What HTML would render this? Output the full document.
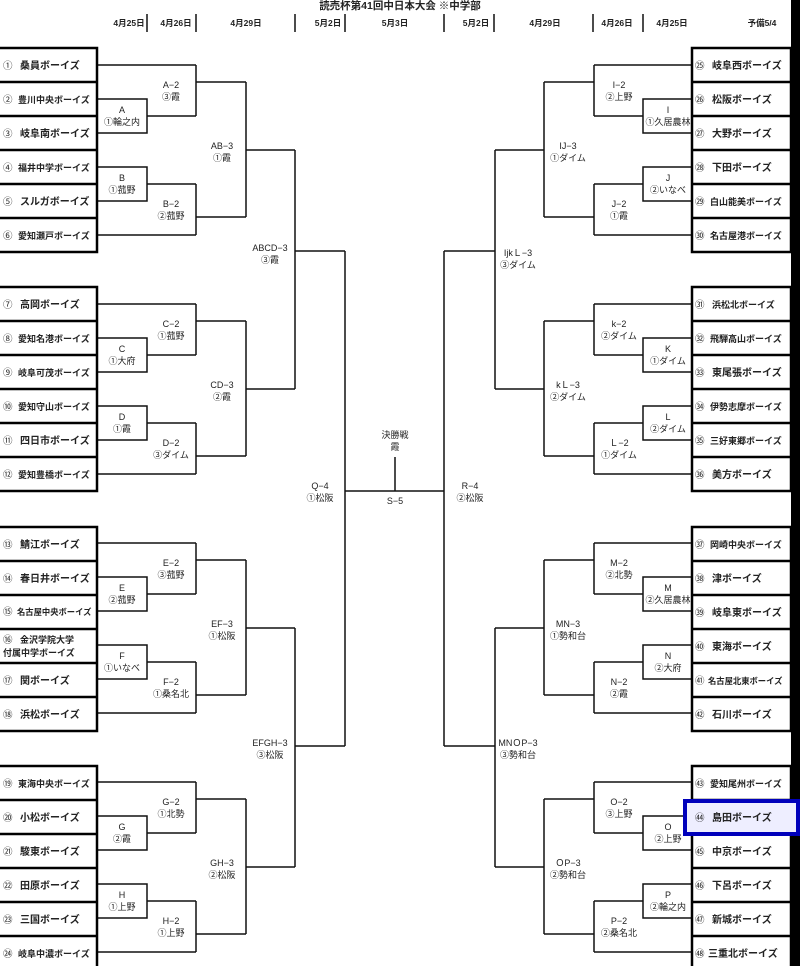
<!DOCTYPE html>
<html><head><meta charset="utf-8">
<style>
html,body{margin:0;padding:0;background:#fff;}
svg{display:block;font-family:"Liberation Sans","Noto Sans CJK JP",sans-serif;}
.t{font-size:10px;font-weight:bold;fill:#222;}
.s{font-size:9px;font-weight:bold;fill:#222;}
.u{font-size:8.3px;font-weight:bold;fill:#222;}
.n{font-size:9.5px;fill:#222;}
.l{font-size:9px;fill:#222;text-anchor:middle;}
.h{font-size:8.5px;font-weight:bold;fill:#222;text-anchor:middle;}
</style></head><body>
<svg width="800" height="966" viewBox="0 0 800 966" xmlns="http://www.w3.org/2000/svg">
<defs>
<path id="g" fill="none" stroke="#111" stroke-width="1.5" d="M97 65H196 M97 99H147V133H97 M147 116H196 M196 65V116 M196 82H246 M97 167H147V201H97 M147 184H196 M196 184V235 M97 235H196 M196 217H246 M246 82V217 M246 150H295"/>
<g id="bx" fill="none" stroke="#000" stroke-width="2.5"><rect x="-2" y="48" width="99" height="204"/><path d="M-2 82H97M-2 116H97M-2 150H97M-2 184H97M-2 218H97"/></g>
</defs>
<rect x="791" y="0" width="9" height="966" fill="#000"/>
<text x="400" y="9" class="h" style="font-size:10.5px">読売杯第41回中日本大会 ※中学部</text>
<g class="h">
<text x="129" y="26">4月25日</text><text x="176" y="26">4月26日</text><text x="246" y="26">4月29日</text><text x="328" y="26">5月2日</text><text x="395" y="26">5月3日</text><text x="476" y="26">5月2日</text><text x="545" y="26">4月29日</text><text x="617" y="26">4月26日</text><text x="672" y="26">4月25日</text><text x="762" y="26">予備5/4</text>
</g>
<path stroke="#111" stroke-width="1.5" d="M147 14V32M196 14V32M295 14V32M345 14V32M444 14V32M494 14V32M593 14V32M643 14V32"/>
<use href="#g"/><use href="#g" transform="translate(0,239)"/><use href="#g" transform="translate(0,478)"/><use href="#g" transform="translate(0,717)"/>
<g transform="translate(790,0) scale(-1,1)"><use href="#g"/><use href="#g" transform="translate(0,239)"/><use href="#g" transform="translate(0,478)"/><use href="#g" transform="translate(0,717)"/></g>
<path fill="none" stroke="#111" stroke-width="1.5" d="M295 150V389M295 251H345M295 628V867M295 746H345M345 251V746M345 491H444M395 457V491M495 150V389M495 251H444M495 628V867M495 746H444M444 251V746"/>
<use href="#bx"/><use href="#bx" transform="translate(0,239)"/><use href="#bx" transform="translate(0,479)"/><use href="#bx" transform="translate(0,718)"/>
<g transform="translate(694,0)"><use href="#bx"/><use href="#bx" transform="translate(0,239)"/><use href="#bx" transform="translate(0,479)"/><use href="#bx" transform="translate(0,718)"/></g>
<rect x="685" y="801" width="113" height="33" fill="#eeeeff" stroke="#0000bb" stroke-width="4"/>
<g>
<text x="3" y="69" class="n">①</text><text x="20" y="69" class="t">桑員ボーイズ</text>
<text x="3" y="103" class="n">②</text><text x="18" y="103" class="s">豊川中央ボーイズ</text>
<text x="3" y="137" class="n">③</text><text x="20" y="137" class="t">岐阜南ボーイズ</text>
<text x="3" y="171" class="n">④</text><text x="18" y="171" class="s">福井中学ボーイズ</text>
<text x="3" y="205" class="n">⑤</text><text x="20" y="205" class="t">スルガボーイズ</text>
<text x="3" y="239" class="n">⑥</text><text x="18" y="239" class="s">愛知瀬戸ボーイズ</text>
<text x="3" y="308" class="n">⑦</text><text x="20" y="308" class="t">高岡ボーイズ</text>
<text x="3" y="342" class="n">⑧</text><text x="18" y="342" class="s">愛知名港ボーイズ</text>
<text x="3" y="376" class="n">⑨</text><text x="18" y="376" class="s">岐阜可茂ボーイズ</text>
<text x="3" y="410" class="n">⑩</text><text x="18" y="410" class="s">愛知守山ボーイズ</text>
<text x="3" y="444" class="n">⑪</text><text x="20" y="444" class="t">四日市ボーイズ</text>
<text x="3" y="478" class="n">⑫</text><text x="18" y="478" class="s">愛知豊橋ボーイズ</text>
<text x="3" y="548" class="n">⑬</text><text x="20" y="548" class="t">鯖江ボーイズ</text>
<text x="3" y="582" class="n">⑭</text><text x="20" y="582" class="t">春日井ボーイズ</text>
<text x="3" y="615" class="n">⑮</text><text x="17" y="615" class="u">名古屋中央ボーイズ</text>
<text x="3" y="643" class="n">⑯</text><text x="20" y="643" class="s">金沢学院大学</text><text x="3" y="656" class="s">付属中学ボーイズ</text>
<text x="3" y="684" class="n">⑰</text><text x="20" y="684" class="t">関ボーイズ</text>
<text x="3" y="718" class="n">⑱</text><text x="20" y="718" class="t">浜松ボーイズ</text>
<text x="3" y="787" class="n">⑲</text><text x="18" y="787" class="s">東海中央ボーイズ</text>
<text x="3" y="821" class="n">⑳</text><text x="20" y="821" class="t">小松ボーイズ</text>
<text x="3" y="855" class="n">㉑</text><text x="20" y="855" class="t">駿東ボーイズ</text>
<text x="3" y="889" class="n">㉒</text><text x="20" y="889" class="t">田原ボーイズ</text>
<text x="3" y="923" class="n">㉓</text><text x="20" y="923" class="t">三国ボーイズ</text>
<text x="3" y="957" class="n">㉔</text><text x="18" y="957" class="s">岐阜中濃ボーイズ</text>
</g>
<g>
<text x="695" y="69" class="n">㉕</text><text x="712" y="69" class="t">岐阜西ボーイズ</text>
<text x="695" y="103" class="n">㉖</text><text x="712" y="103" class="t">松阪ボーイズ</text>
<text x="695" y="137" class="n">㉗</text><text x="712" y="137" class="t">大野ボーイズ</text>
<text x="695" y="171" class="n">㉘</text><text x="712" y="171" class="t">下田ボーイズ</text>
<text x="695" y="205" class="n">㉙</text><text x="710" y="205" class="s">白山能美ボーイズ</text>
<text x="695" y="239" class="n">㉚</text><text x="710" y="239" class="s">名古屋港ボーイズ</text>
<text x="695" y="308" class="n">㉛</text><text x="712" y="308" class="s">浜松北ボーイズ</text>
<text x="695" y="342" class="n">㉜</text><text x="710" y="342" class="s">飛騨高山ボーイズ</text>
<text x="695" y="376" class="n">㉝</text><text x="712" y="376" class="t">東尾張ボーイズ</text>
<text x="695" y="410" class="n">㉞</text><text x="710" y="410" class="s">伊勢志摩ボーイズ</text>
<text x="695" y="444" class="n">㉟</text><text x="710" y="444" class="s">三好東郷ボーイズ</text>
<text x="695" y="478" class="n">㊱</text><text x="712" y="478" class="t">美方ボーイズ</text>
<text x="695" y="548" class="n">㊲</text><text x="710" y="548" class="s">岡崎中央ボーイズ</text>
<text x="695" y="582" class="n">㊳</text><text x="712" y="582" class="t">津ボーイズ</text>
<text x="695" y="616" class="n">㊴</text><text x="712" y="616" class="t">岐阜東ボーイズ</text>
<text x="695" y="650" class="n">㊵</text><text x="712" y="650" class="t">東海ボーイズ</text>
<text x="695" y="684" class="n">㊶</text><text x="708" y="684" class="u">名古屋北東ボーイズ</text>
<text x="695" y="718" class="n">㊷</text><text x="712" y="718" class="t">石川ボーイズ</text>
<text x="695" y="787" class="n">㊸</text><text x="710" y="787" class="s">愛知尾州ボーイズ</text>
<text x="695" y="821" class="n">㊹</text><text x="712" y="821" class="t">島田ボーイズ</text>
<text x="695" y="855" class="n">㊺</text><text x="712" y="855" class="t">中京ボーイズ</text>
<text x="695" y="889" class="n">㊻</text><text x="712" y="889" class="t">下呂ボーイズ</text>
<text x="695" y="923" class="n">㊼</text><text x="712" y="923" class="t">新城ボーイズ</text>
<text x="695" y="957" class="n">㊽</text><text x="708" y="957" class="t">三重北ボーイズ</text>
</g>
<g class="l">
<text x="171" y="88">A−2</text><text x="171" y="100">③霞</text>
<text x="122" y="113">A</text><text x="122" y="125">①輪之内</text>
<text x="122" y="181">B</text><text x="122" y="193">①菰野</text>
<text x="171" y="207">B−2</text><text x="171" y="219">②菰野</text>
<text x="222" y="149">AB−3</text><text x="222" y="161">①霞</text>
<text x="270" y="251">ABCD−3</text><text x="270" y="263">③霞</text>
<text x="171" y="327">C−2</text><text x="171" y="339">①菰野</text>
<text x="122" y="352">C</text><text x="122" y="364">①大府</text>
<text x="222" y="388">CD−3</text><text x="222" y="400">②霞</text>
<text x="122" y="420">D</text><text x="122" y="432">①霞</text>
<text x="171" y="446">D−2</text><text x="171" y="458">③ダイム</text>
<text x="320" y="489">Q−4</text><text x="320" y="501">①松阪</text>
<text x="395" y="438">決勝戦</text><text x="395" y="450">霞</text>
<text x="395" y="504">S−5</text>
<text x="470" y="489">R−4</text><text x="470" y="501">②松阪</text>
<text x="171" y="566">E−2</text><text x="171" y="578">③菰野</text>
<text x="122" y="591">E</text><text x="122" y="603">②菰野</text>
<text x="222" y="627">EF−3</text><text x="222" y="639">①松阪</text>
<text x="122" y="659">F</text><text x="122" y="671">①いなべ</text>
<text x="171" y="685">F−2</text><text x="171" y="697">①桑名北</text>
<text x="270" y="746">EFGH−3</text><text x="270" y="758">③松阪</text>
<text x="171" y="805">G−2</text><text x="171" y="817">①北勢</text>
<text x="122" y="830">G</text><text x="122" y="842">②霞</text>
<text x="222" y="866">GH−3</text><text x="222" y="878">②松阪</text>
<text x="122" y="898">H</text><text x="122" y="910">①上野</text>
<text x="171" y="924">H−2</text><text x="171" y="936">①上野</text>
</g>
<g class="l">
<text x="619" y="88">I−2</text><text x="619" y="100">②上野</text>
<text x="668" y="113">I</text><text x="668" y="125">①久居農林</text>
<text x="568" y="149">IJ−3</text><text x="568" y="161">①ダイム</text>
<text x="668" y="181">J</text><text x="668" y="193">②いなべ</text>
<text x="619" y="207">J−2</text><text x="619" y="219">①霞</text>
<text x="518" y="256">IjkＬ−3</text><text x="518" y="268">③ダイム</text>
<text x="619" y="327">k−2</text><text x="619" y="339">②ダイム</text>
<text x="668" y="352">K</text><text x="668" y="364">①ダイム</text>
<text x="568" y="388">kＬ−3</text><text x="568" y="400">②ダイム</text>
<text x="668" y="420">L</text><text x="668" y="432">②ダイム</text>
<text x="619" y="446">Ｌ−2</text><text x="619" y="458">①ダイム</text>
<text x="619" y="566">M−2</text><text x="619" y="578">②北勢</text>
<text x="668" y="591">M</text><text x="668" y="603">②久居農林</text>
<text x="568" y="627">MN−3</text><text x="568" y="639">①勢和台</text>
<text x="668" y="659">N</text><text x="668" y="671">②大府</text>
<text x="619" y="685">N−2</text><text x="619" y="697">②霞</text>
<text x="518" y="746">MNＯP−3</text><text x="518" y="758">③勢和台</text>
<text x="619" y="805">O−2</text><text x="619" y="817">③上野</text>
<text x="668" y="830">O</text><text x="668" y="842">②上野</text>
<text x="568" y="866">ＯP−3</text><text x="568" y="878">②勢和台</text>
<text x="668" y="898">P</text><text x="668" y="910">②輪之内</text>
<text x="619" y="924">P−2</text><text x="619" y="936">②桑名北</text>
</g>
</svg>
</body></html>
